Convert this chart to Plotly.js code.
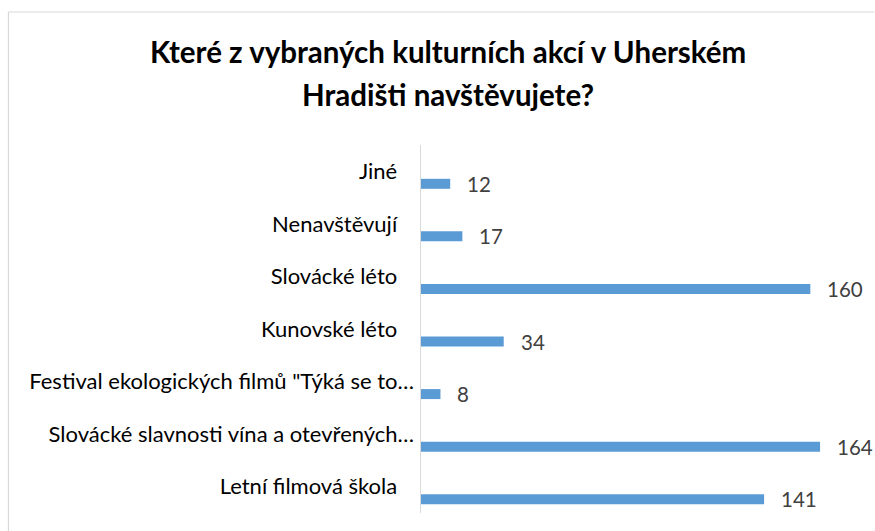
<!DOCTYPE html>
<html>
<head>
<meta charset="utf-8">
<script src="https://cdn.plot.ly/plotly-3.0.1.min.js"></script>
<style>html,body{margin:0;padding:0;background:#fff;}#chart{width:875px;height:531px;}</style>
</head>
<body>
<div id="chart"></div>
<script>
// Data (bottom to top as drawn)
const categories = ["Letní filmová škola", "Slovácké slavnosti vína a otevřených…", "Festival ekologických filmů \"Týká se to…", "Kunovské léto", "Slovácké léto", "Nenavštěvují", "Jiné"];
const tickLabels = ["Letní filmová škola\u00a0\u00a0\u00a0", "Slovácké slavnosti vína a otevřených…", "Festival ekologických filmů \"Týká se to…", "Kunovské léto\u00a0\u00a0\u00a0", "Slovácké léto\u00a0\u00a0\u00a0", "Nenavštěvují\u00a0\u00a0\u00a0", "Jiné\u00a0\u00a0\u00a0"];
const values = [141, 164, 8, 34, 160, 17, 12];
const titleLines = ["Které z vybraných kulturních akcí v Uherském", "Hradišti navštěvujete?"];

const FONT = "Lato, 'Open Sans', sans-serif";
const L = 421, R = 875 - 859.5, T = 145, B = 531 - 513;
const W = 875 - L - R, H = 531 - T - B;
const px = x => (x - L) / W;
const py = y => (531 - B - y) / H;

const trace = {
  type: "bar",
  orientation: "h",
  y: categories,
  x: values,
  marker: {color: "#5b9bd5"},
  width: 0.19,
  offset: -0.333,
  hoverinfo: "x+y"
};

const annotations = values.map((v, i) => ({
  x: v, y: categories[i], xref: "x", yref: "y",
  text: String(v), showarrow: false, xanchor: "left", yanchor: "middle",
  xshift: 15, yshift: -12.5,
  font: {family: FONT, size: 20.5, color: "#404040"}
}));
annotations.push({
  xref: "paper", yref: "paper", x: px(448.5), y: py(52), text: "<b>" + titleLines[0] + "</b>",
  showarrow: false, xanchor: "center", yanchor: "middle",
  font: {family: FONT, size: 29.5, color: "#000000"}
});
annotations.push({
  xref: "paper", yref: "paper", x: px(448.5), y: py(95), text: "<b>" + titleLines[1] + "</b>",
  showarrow: false, xanchor: "center", yanchor: "middle",
  font: {family: FONT, size: 29.5, color: "#000000"}
});

const layout = {
  width: 875, height: 531,
  margin: {l: L, r: R, t: T, b: B, pad: 0},
  paper_bgcolor: "#ffffff", plot_bgcolor: "#ffffff",
  showlegend: false,
  xaxis: {range: [0, 180], visible: false, fixedrange: true},
  yaxis: {
    type: "category", categoryorder: "array", categoryarray: categories,
    tickvals: categories, ticktext: tickLabels,
    range: [-0.5, 6.5], showgrid: false, zeroline: false,
    showline: true, linecolor: "#d9d9d9", linewidth: 1.5,
    ticks: "", ticklabelstandoff: 1,
    tickfont: {family: FONT, size: 22, color: "#000000"},
    fixedrange: true
  },
  annotations: annotations,
  shapes: [
    {type: "line", xref: "paper", yref: "paper", x0: px(8), x1: px(8), y0: py(12), y1: py(531), line: {color: "#d9d9d9", width: 1.2}},
    {type: "line", xref: "paper", yref: "paper", x0: px(8), x1: px(875), y0: py(12), y1: py(12), line: {color: "#d9d9d9", width: 1.2}}
  ]
};

Plotly.newPlot("chart", [trace], layout, {displayModeBar: false, staticPlot: true});
</script>
</body>
</html>
